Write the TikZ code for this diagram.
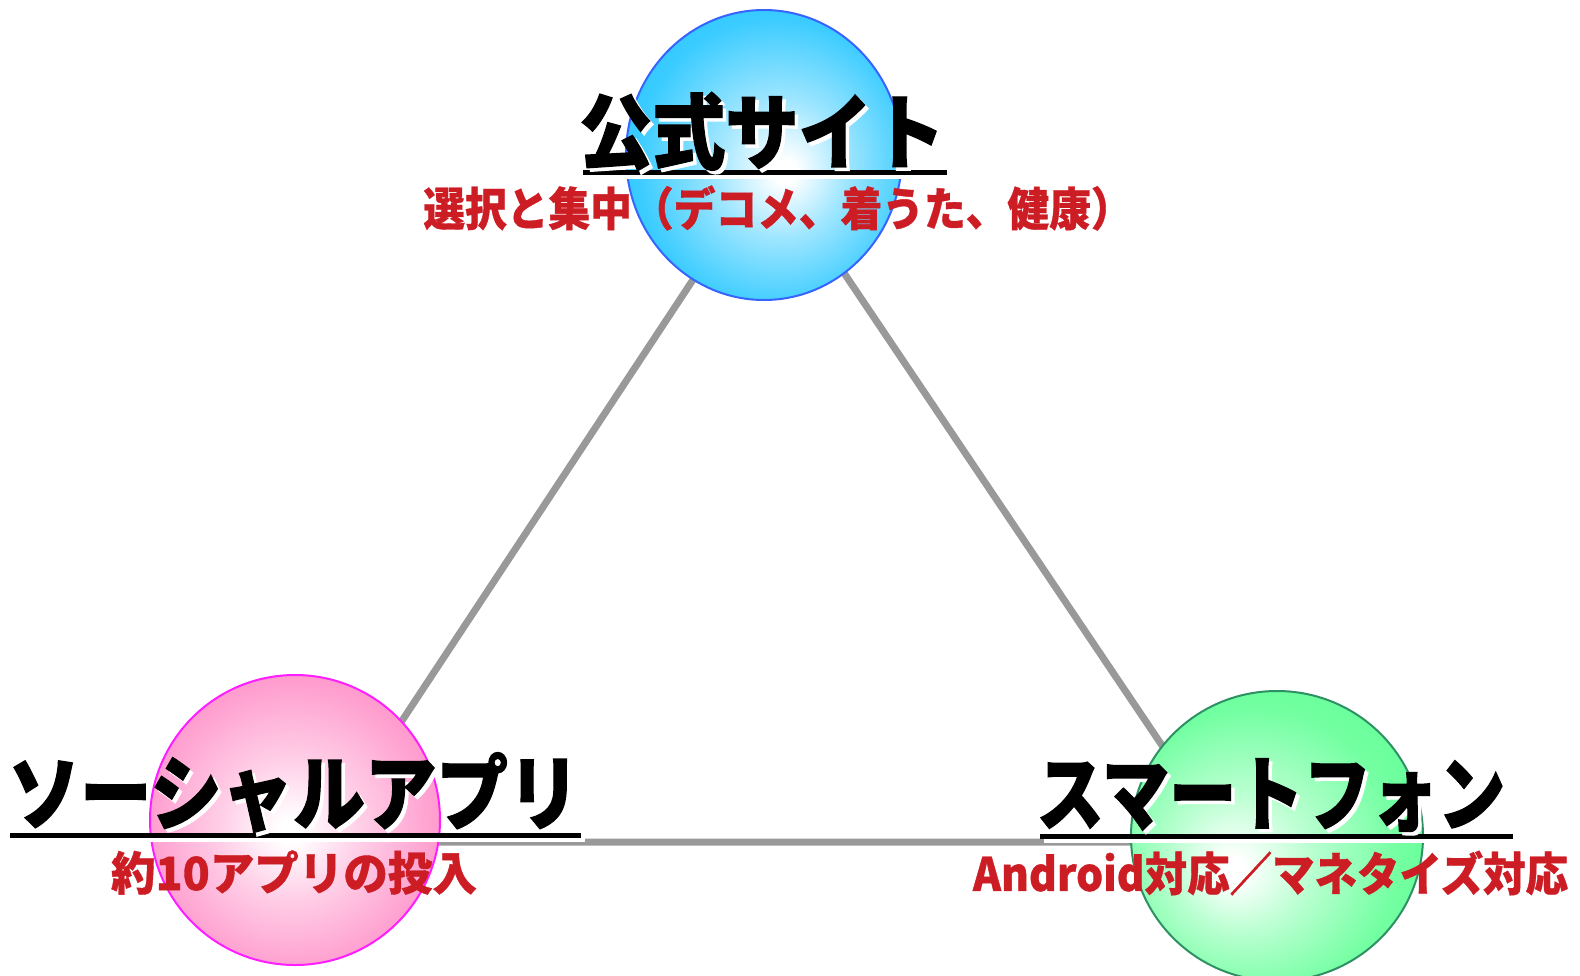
\documentclass[tikz,border=0pt]{standalone}
\usepackage{fontspec}
\usepackage{graphicx}
\usetikzlibrary{shapes.geometric}
\newfontfamily\jpheavy{Noto Sans CJK JP}[BoldFeatures={FakeBold=1.6}]
\newfontfamily\jpsub{Noto Sans CJK JP}[BoldFeatures={FakeBold=0.8}]
\definecolor{ared}{RGB}{204,28,36}
\definecolor{linegray}{RGB}{153,153,153}
\definecolor{blueout}{RGB}{25,195,255}
\definecolor{blueedge}{RGB}{55,100,255}
\definecolor{pinkout}{RGB}{255,140,198}
\definecolor{pinkedge}{RGB}{255,30,255}
\definecolor{greenout}{RGB}{90,255,145}
\definecolor{greenedge}{RGB}{45,145,100}
\pgfdeclareradialshading{blueball}{\pgfpoint{4bp}{-3bp}}{color(0bp)=(white); color(2bp)=(white); color(12bp)=(blueout!42!white); color(25bp)=(blueout!85!white); color(37bp)=(blueout); color(50bp)=(blueout)}
\pgfdeclareradialshading{pinkball}{\pgfpoint{-1bp}{-2bp}}{color(0bp)=(white); color(2bp)=(white); color(12bp)=(pinkout!42!white); color(25bp)=(pinkout!85!white); color(37bp)=(pinkout); color(50bp)=(pinkout)}
\pgfdeclareradialshading{greenball}{\pgfpoint{-8bp}{-6bp}}{color(0bp)=(white); color(2bp)=(white); color(12bp)=(greenout!42!white); color(25bp)=(greenout!85!white); color(37bp)=(greenout); color(50bp)=(greenout)}
\tikzset{
  tri/.style={draw=linegray, line width=7pt, line join=miter},
  ball/.style={ellipse, inner sep=0pt, line width=2pt},
  title/.style={inner sep=0pt, font=\jpheavy\bfseries\fontsize{82}{82}\selectfont, text=black},
  uline/.style={draw=black, line width=5pt},
  ushadow/.style={draw=white, line width=5pt},
  sub/.style={inner sep=0pt, font=\jpsub\bfseries\fontsize{46}{46}\selectfont, text=ared}
}
% text with a white drop shadow: scale, text
\newcommand{\shadowed}[2]{%
  \rlap{\smash{\hspace*{3.5pt}\raisebox{-3.5pt}{\color{white}\scalebox{#1}[1]{#2}}}}\scalebox{#1}[1]{#2}}
\begin{document}
\begin{tikzpicture}[x=1pt,y=-1pt]
\useasboundingbox (0,0) rectangle (1580,975);
% triangle
\coordinate (A) at (770,163);
\coordinate (B) at (322,842);
\coordinate (C) at (1227,842);
\draw[tri] (A) -- (B) -- (C) -- cycle;
% balls
\node[ball, shading=blueball, draw=blueedge, minimum width=276pt, minimum height=290pt] (site) at (764,155) {};
\node[ball, shading=pinkball, draw=pinkedge, minimum width=290pt, minimum height=290pt] (social) at (295,820) {};
\node[ball, shading=greenball, draw=greenedge, minimum width=292pt, minimum height=290pt] (smart) at (1277,836) {};
% underline shadows and underlines
\coordinate (u1a) at (583,172.5);  \coordinate (u1b) at (947,172.5);
\coordinate (u2a) at (10,835.5);   \coordinate (u2b) at (581,835.5);
\coordinate (u3a) at (1040,836.5); \coordinate (u3b) at (1513,836.5);
\draw[ushadow] ([shift={(3.5,3.5)}]u1a) -- ([shift={(3.5,3.5)}]u1b);
\draw[ushadow] ([shift={(3.5,3.5)}]u2a) -- ([shift={(3.5,3.5)}]u2b);
\draw[ushadow] ([shift={(3.5,3.5)}]u3a) -- ([shift={(3.5,3.5)}]u3b);
\draw[uline] (u1a) -- (u1b);
\draw[uline] (u2a) -- (u2b);
\draw[uline] (u3a) -- (u3b);
% titles
\node[title] (t1) at (762,131.5) {\shadowed{0.892}{公式サイト}};
\node[title] (t2) at (294,792.5) {\shadowed{0.873}{ソーシャルアプリ}};
\node[title] (t3) at (1271,795) {\shadowed{0.82}{スマートフォン}};
% subtitles
\node[sub] (s1) at (778,208) {\scalebox{0.907}[1]{選択と集中（デコメ、着うた、健康）}};
\node[sub] (s2) at (294,872.5) {\scalebox{0.968}[1]{約10アプリの投入}};
\node[sub] (s3) at (1270.5,873) {\scalebox{0.923}[1]{Android対応／マネタイズ対応}};
\end{tikzpicture}
\end{document}
